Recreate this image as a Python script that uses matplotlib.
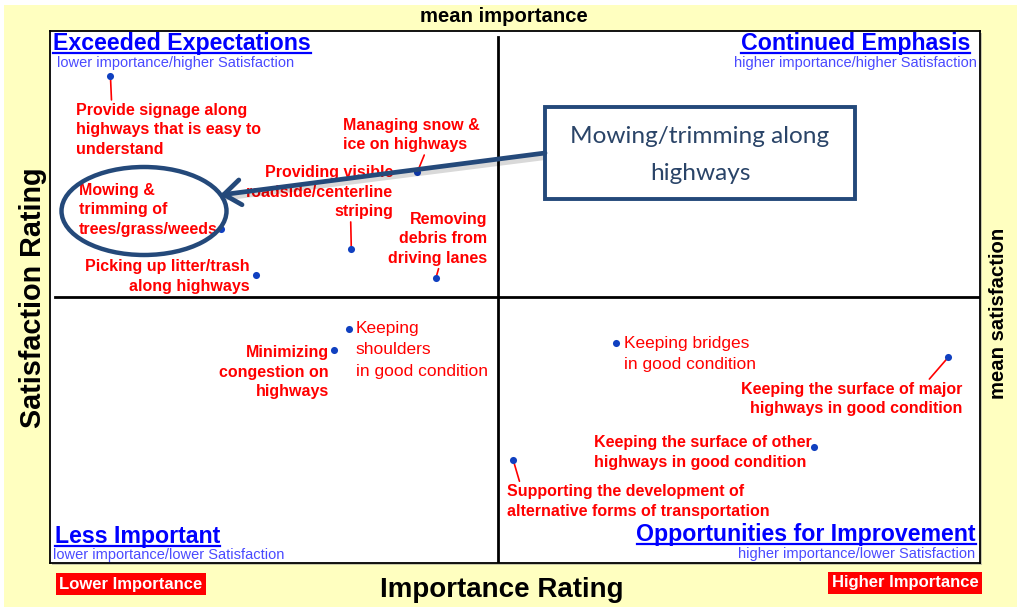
import matplotlib
matplotlib.use("Agg")
import matplotlib.pyplot as plt
from matplotlib.patches import Rectangle, Ellipse
from matplotlib.lines import Line2D

W, H = 1024, 612

# ---------------- data ----------------
items = [
    "Provide signage along\nhighways that is easy to\nunderstand",
    "Mowing &\ntrimming of\ntrees/grass/weeds",
    "Picking up litter/trash\nalong highways",
    "Providing visible\nroadside/centerline\nstriping",
    "Managing snow &\nice on highways",
    "Removing\ndebris from\ndriving lanes",
    "Keeping\nshoulders\nin good condition",
    "Minimizing\ncongestion on\nhighways",
    "Keeping bridges\nin good condition",
    "Keeping the surface of major\nhighways in good condition",
    "Keeping the surface of other\nhighways in good condition",
    "Supporting the development of\nalternative forms of transportation",
]
importance = [6.5, 18.4, 22.2, 32.4, 39.5, 41.5, 32.1, 30.5, 60.9, 96.6, 82.1, 49.8]
satisfaction = [91.5, 62.8, 54.1, 59.0, 73.5, 53.6, 44.0, 40.0, 41.4, 38.7, 21.8, 19.4]
mean_importance = 48.2
mean_satisfaction = 50.0

quadrant_titles = ["Exceeded Expectations", "Continued Emphasis",
                   "Less Important", "Opportunities for Improvement"]
quadrant_subtitles = ["lower importance/higher Satisfaction",
                      "higher importance/higher Satisfaction",
                      "lower importance/lower Satisfaction",
                      "higher importance/lower Satisfaction"]
callout_text = "Mowing/trimming along\nhighways"

# ---------------- label styles (offset px, ha, weight, connector relpos) ----------------
label_styles = [
    ((-34, -53.5), "left", "bold", (0.19, 1.0)),
    ((-142, 19), "left", "bold", None),
    ((-7, -1.5), "right", "bold", None),
    ((42, 57), "right", "bold", (0.71, 0.0)),
    ((-74, 37), "left", "bold", (0.6, 0.0)),
    ((51, 39), "right", "bold", (0.52, 0.0)),
    ((7, -21), "left", "normal", None),
    ((-5, -22), "right", "bold", None),
    ((8, -11), "left", "normal", None),
    ((14, -42), "right", "bold", (0.84, 1.0)),
    ((-220, -5.5), "left", "bold", None),
    ((-6, -41.5), "left", "bold", (0.05, 1.0)),
]

FONT = "Liberation Sans"
plt.rcParams["font.family"] = [FONT, "DejaVu Sans"]

RED = "#FF0000"
BLUE = "#0000FF"
SUBBLUE = "#4A4AFF"
DOT = "#1040C0"
NAVY = "#24497A"
YELLOW = "#FFFFC0"


def P(px, py):
    return (px / W, 1 - py / H)


fig = plt.figure(figsize=(W / 100, H / 100), dpi=100, facecolor="white")

# yellow background
x0, y0 = P(4, 607)
x1, y1 = P(1017, 5)
fig.patches.append(Rectangle((x0, y0), x1 - x0, y1 - y0, transform=fig.transFigure,
                             facecolor=YELLOW, edgecolor="none", zorder=-10))

# frame shadow
sx0, sy0 = P(52, 565)
sx1, sy1 = P(982, 33)
fig.patches.append(Rectangle((sx0, sy0), sx1 - sx0, sy1 - sy0, transform=fig.transFigure,
                             facecolor="#c8c8a8", edgecolor="none", zorder=-5))

ax_l, ax_b = P(50, 563)
ax_r, ax_t = P(980, 31)
ax = fig.add_axes([ax_l, ax_b, ax_r - ax_l, ax_t - ax_b])
ax.set_facecolor("white")
ax.set_xlim(0, 100)
ax.set_ylim(0, 100)
ax.set_xticks([])
ax.set_yticks([])
for s in ax.spines.values():
    s.set_linewidth(1.3)
    s.set_color("black")

ax.axvline(mean_importance, ymin=0, ymax=0.989, color="black", lw=2.0, zorder=2)
ax.axhline(mean_satisfaction, xmin=0.005, xmax=1, color="black", lw=2.0, zorder=2)

ax.scatter(importance, satisfaction, s=26, color=DOT, zorder=4, linewidths=0)

for name, x, y, (off, ha, wt, rel) in zip(items, importance, satisfaction, label_styles):
    fs = 11.5 if wt == "bold" else 12.5
    ls = 1.38 if wt == "bold" else 1.53
    kw = {}
    if rel is not None:
        kw["arrowprops"] = dict(arrowstyle="-", color=RED, lw=1.2,
                                shrinkA=0, shrinkB=2, relpos=rel)
    ax.annotate(name, xy=(x, y), xytext=off, textcoords="offset pixels",
                ha=ha, va="center", color=RED, fontsize=fs, fontweight=wt,
                linespacing=ls, zorder=3, **kw)

# quadrant titles (baseline positions in px)
title_pos = [((53, 50), "left"), ((970, 50), "right"),
             ((55, 543), "left"), ((976, 541), "right")]
sub_pos = [((57, 67), "left"), ((977, 67), "right"),
           ((53, 559), "left"), ((975, 558), "right")]
title_texts = []
for t, ((px, py), ha) in zip(quadrant_titles, title_pos):
    tt = fig.text(*P(px, py), t, ha=ha, va="baseline", color=BLUE,
                  fontsize=16.7, fontweight="bold", zorder=5)
    title_texts.append((tt, py))
for t, ((px, py), ha) in zip(quadrant_subtitles, sub_pos):
    fig.text(*P(px, py), t, ha=ha, va="baseline", color=SUBBLUE,
             fontsize=10.5, zorder=5)

# axis titles
fig.text(*P(504, 16), "mean importance", ha="center", va="center",
         fontsize=14.6, fontweight="bold", color="black")
fig.text(*P(502, 590), "Importance Rating", ha="center", va="center",
         fontsize=20, fontweight="bold", color="black")
fig.text(*P(33, 298), "Satisfaction Rating", ha="center", va="center",
         rotation=90, fontsize=20.7, fontweight="bold", color="black")
fig.text(*P(999, 313), "mean satisfaction", ha="center", va="center",
         rotation=90, fontsize=14.6, fontweight="bold", color="black")

# red boxes
fig.text(*P(131, 584), "Lower Importance", ha="center", va="center",
         fontsize=12, fontweight="bold", color="white",
         bbox=dict(boxstyle="square,pad=0.2", facecolor=RED, edgecolor="none"))
fig.text(*P(905, 583), "Higher Importance", ha="center", va="center",
         fontsize=12, fontweight="bold", color="white",
         bbox=dict(boxstyle="square,pad=0.2", facecolor=RED, edgecolor="none"))

# callout box
bx0, by0 = P(545, 199)
bx1, by1 = P(855, 107)
fig.patches.append(Rectangle((bx0, by0), bx1 - bx0, by1 - by0, transform=fig.transFigure,
                             facecolor="white", edgecolor=NAVY, lw=2.8, zorder=6))
fig.text(*P(700, 155), callout_text, ha="center", va="center", color="#2A4468",
         fontsize=17.6, family="Lato", linespacing=1.95, zorder=7)

# ellipse
ex, ey = P(144, 211)
fig.patches.append(Ellipse((ex, ey), 165 / W, 88 / H, transform=fig.transFigure,
                           facecolor="none", edgecolor=NAVY, lw=3.2, zorder=6))

# arrow (shadow + arrow)
fig.add_artist(matplotlib.text.Annotation(
    "", xy=P(223, 198), xytext=P(547, 157), xycoords="figure fraction",
    textcoords="figure fraction",
    arrowprops=dict(arrowstyle="-", color="#000000", alpha=0.15, lw=4,
                    shrinkA=0, shrinkB=0), zorder=5))
fig.add_artist(matplotlib.text.Annotation(
    "", xy=P(220, 195), xytext=P(545, 153), xycoords="figure fraction",
    textcoords="figure fraction",
    arrowprops=dict(arrowstyle="->,head_length=0.6,head_width=0.45",
                    mutation_scale=20, color=NAVY, lw=3.4,
                    shrinkA=0, shrinkB=0), zorder=7))

# underlines for quadrant titles
fig.canvas.draw()
r = fig.canvas.get_renderer()
for tt, py in title_texts:
    bb = tt.get_window_extent(renderer=r)
    yy = 1 - (py + 2.5) / H
    fig.add_artist(Line2D([bb.x0 / W, bb.x1 / W], [yy, yy], transform=fig.transFigure,
                          color=BLUE, lw=1.6, zorder=5))

fig.savefig("out.png", dpi=100, facecolor="white")
